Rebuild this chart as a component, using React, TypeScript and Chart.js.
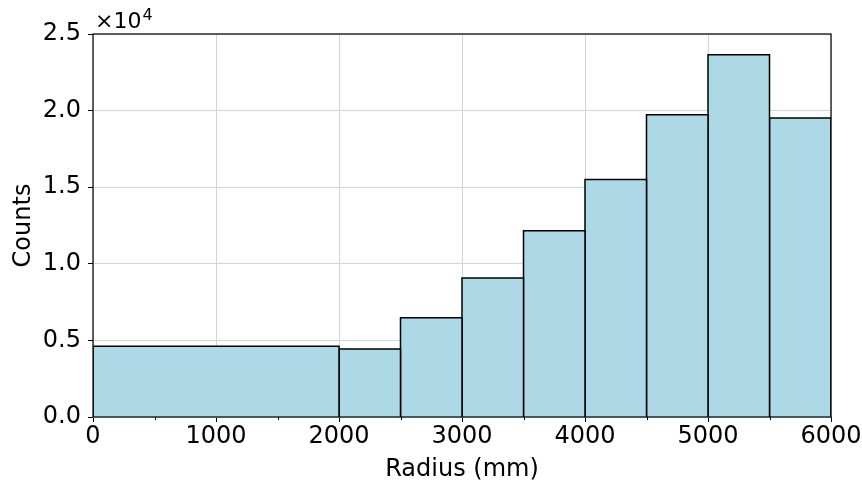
import React, { useEffect, useRef } from "react";
import { Chart, registerables } from "chart.js";

Chart.register(...registerables);

// Histogram bin edges (mm) and counts
const binEdges = [0, 2000, 2500, 3000, 3500, 4000, 4500, 5000, 5500, 6000];
const binCounts = [4610, 4440, 6480, 9070, 12160, 15510, 19730, 23650, 19520];

const xTicks = [0, 1000, 2000, 3000, 4000, 5000, 6000];
const xMinorTicks = [500, 1500, 2500, 3500, 4500, 5500];
const yTicks = [0, 5000, 10000, 15000, 20000, 25000];

const FONT = "'DejaVu Sans', 'Liberation Sans', sans-serif";
const FS = 24;
const BAR_FILL = "#add8e6";
const GRID = "#d4d4d4";

const decorPlugin = {
  id: "decor",
  afterDraw(chart: any) {
    const { ctx, chartArea: a, scales } = chart;
    ctx.save();
    // spines
    ctx.strokeStyle = "#000";
    ctx.lineWidth = 1.2;
    ctx.strokeRect(a.left, a.top, a.right - a.left, a.bottom - a.top);
    // minor ticks on x
    ctx.lineWidth = 1;
    for (const v of xMinorTicks) {
      const px = Math.round(scales.x.getPixelForValue(v)) + 0.5;
      ctx.beginPath();
      ctx.moveTo(px, a.bottom);
      ctx.lineTo(px, a.bottom + 3);
      ctx.stroke();
    }
    // offset text ×10^4
    ctx.fillStyle = "#000";
    ctx.textAlign = "left";
    ctx.textBaseline = "alphabetic";
    ctx.font = `22px ${FONT}`;
    const base = "×10";
    ctx.fillText(base, a.left + 2, a.top - 6);
    const w = ctx.measureText(base).width;
    ctx.font = `16px ${FONT}`;
    ctx.fillText("4", a.left + 2 + w + 1, a.top - 14);
    ctx.restore();
  },
};

export default function App() {
  const ref = useRef<HTMLCanvasElement | null>(null);

  useEffect(() => {
    document.body.style.margin = "0";
    const canvas = ref.current;
    if (!canvas) return;

    const datasets = binCounts.map((c, i) => ({
      data: [
        { x: binEdges[i], y: 0 },
        { x: binEdges[i], y: c },
        { x: binEdges[i + 1], y: c },
        { x: binEdges[i + 1], y: 0 },
      ],
      borderColor: "#000",
      borderWidth: 1.5,
      backgroundColor: BAR_FILL,
      fill: "origin",
      pointRadius: 0,
      tension: 0,
      borderJoinStyle: "miter" as const,
    }));

    const chart = new Chart(canvas, {
      type: "line",
      data: { datasets },
      options: {
        animation: false,
        responsive: false,
        devicePixelRatio: 1,
        layout: { padding: { left: 0, right: 31, top: 34, bottom: 0 } },
        plugins: {
          legend: { display: false },
          tooltip: { enabled: false },
        },
        scales: {
          x: {
            type: "linear",
            min: 0,
            max: 6000,
            afterBuildTicks: (s: any) => {
              s.ticks = xTicks.map((v) => ({ value: v }));
            },
            afterFit: (s: any) => {
              s.height = 68;
            },
            ticks: {
              autoSkip: false,
              maxRotation: 0,
              padding: 0,
              color: "#000",
              font: { family: FONT, size: FS },
              callback: (v: any) => String(v),
            },
            grid: {
              color: GRID,
              lineWidth: 1,
              tickColor: "#000",
              tickLength: 5,
              drawTicks: true,
            },
            border: { display: false },
            title: {
              display: true,
              text: "Radius (mm)",
              color: "#000",
              font: { family: FONT, size: FS },
              padding: { top: 0, bottom: 1 },
            },
          },
          y: {
            type: "linear",
            min: 0,
            max: 25000,
            afterBuildTicks: (s: any) => {
              s.ticks = yTicks.map((v) => ({ value: v }));
            },
            afterFit: (s: any) => {
              s.width = 93;
            },
            ticks: {
              padding: 7,
              color: "#000",
              font: { family: FONT, size: FS },
              callback: (v: any) => (Number(v) / 1e4).toFixed(1),
            },
            grid: {
              color: GRID,
              lineWidth: 1,
              tickColor: "#000",
              tickLength: 5,
              drawTicks: true,
            },
            border: { display: false },
            title: {
              display: true,
              text: "Counts",
              color: "#000",
              font: { family: FONT, size: FS },
              padding: { top: 9, bottom: 0 },
            },
          },
        },
      },
      plugins: [decorPlugin],
    });

    return () => chart.destroy();
  }, []);

  return (
    <div style={{ width: 862, height: 485 }}>
      <canvas ref={ref} width={862} height={485} />
    </div>
  );
}
